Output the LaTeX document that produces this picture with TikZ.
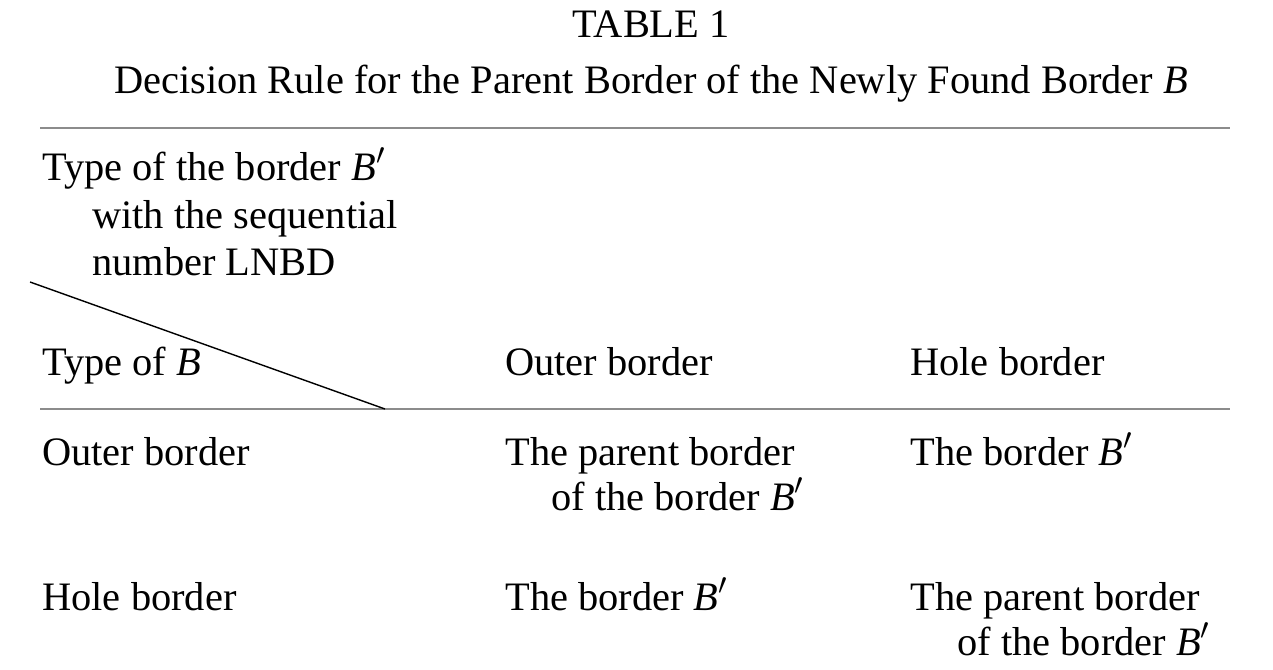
\documentclass[tikz,border=0pt]{standalone}
\usepackage{fontspec}
\setmainfont{Liberation Serif}
\begin{document}
\begin{tikzpicture}[x=0.02cm,y=-0.02cm,
    cell/.style={anchor=base west,inner sep=0pt,font=\fontsize{23}{27}\selectfont},
    title/.style={anchor=base,inner sep=0pt,font=\fontsize{23}{27}\selectfont},
    rule/.style={black!45,line width=1.1pt}]
    \useasboundingbox (0,0) rectangle (1273,669);
    \newcommand{\Bp}{\textit{B}$'$}

    \node[title] (tab) at (651,38) {TABLE 1};
    \node[title] (cap) at (651,93) {Decision Rule for the Parent Border of the Newly Found Border \textit{B}};

    \coordinate (tl) at (40,128);
    \coordinate (tr) at (1230,128);
    \coordinate (ml) at (40,409);
    \coordinate (mr) at (1230,409);
    \coordinate (d1) at (30,282);
    \coordinate (d2) at (385,409);

    \node[cell] (h1) at (42,180) {Type of the border \Bp};
    \node[cell] (h2) at (92,228) {with the sequential};
    \node[cell] (h3) at (92,275) {number LNBD};
    \node[cell] (hb) at (42,375) {Type of \textit{B}};
    \node[cell] (ho) at (505,375) {Outer border};
    \node[cell] (hh) at (910,375) {Hole border};

    \node[cell] (r1) at (42,465) {Outer border};
    \node[cell] (c11a) at (505,465) {The parent border};
    \node[cell] (c11b) at (551,510) {of the border \Bp};
    \node[cell] (c12) at (910,465) {The border \Bp};

    \node[cell] (r2) at (42,610) {Hole border};
    \node[cell] (c21) at (505,610) {The border \Bp};
    \node[cell] (c22a) at (910,610) {The parent border};
    \node[cell] (c22b) at (957,655) {of the border \Bp};

    \draw[rule] (tl) -- (tr);
    \draw[rule] (ml) -- (mr);
    \draw[line width=0.8pt] (d1) -- (d2);
\end{tikzpicture}
\end{document}
